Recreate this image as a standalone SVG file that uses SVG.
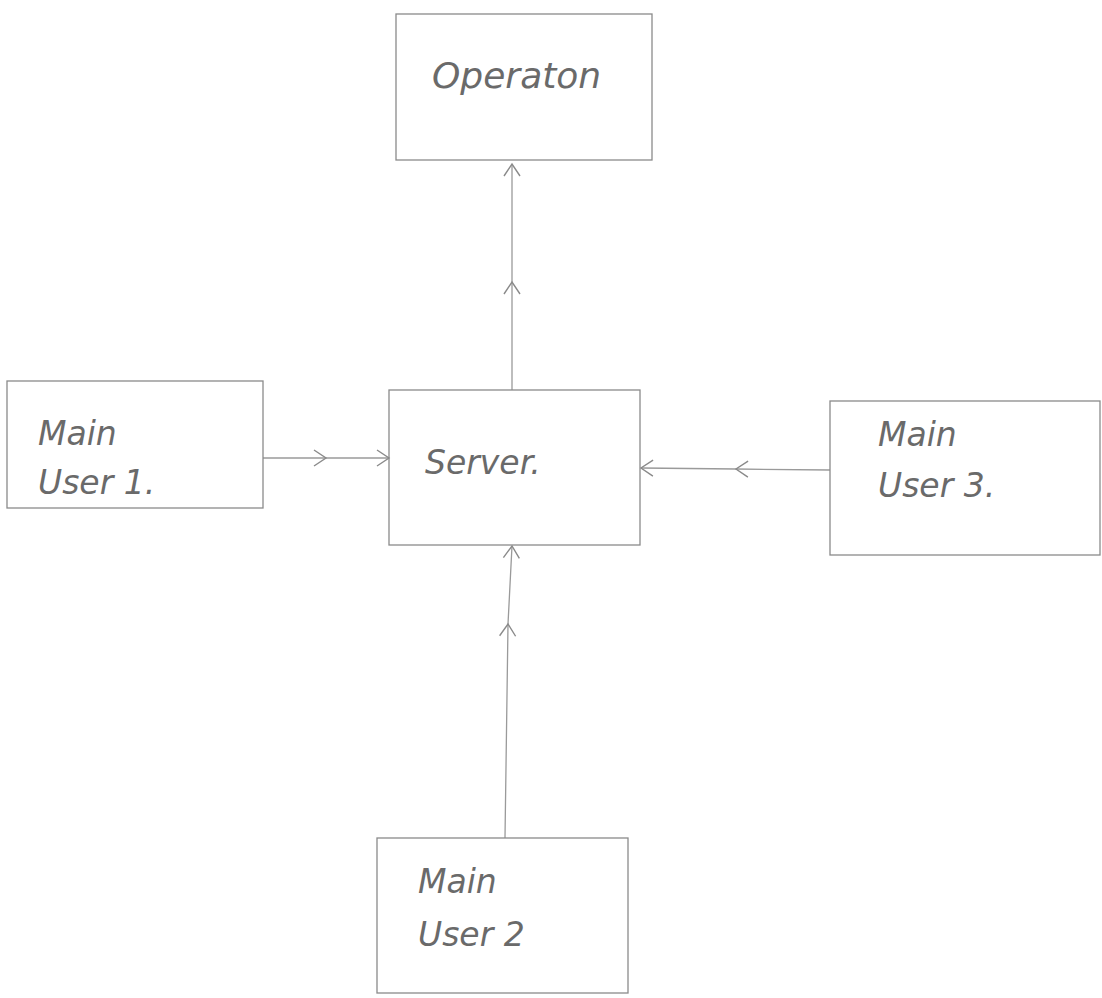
<svg xmlns="http://www.w3.org/2000/svg" width="1102" height="998" viewBox="0 0 1102 998">
<style>
.box{fill:none;stroke:#8a8a8a;stroke-width:1.3}
.lbl{font-family:"DejaVu Sans","Liberation Sans",sans-serif;font-style:italic;font-size:33px;fill:#6a6a6a}
.big{font-size:36px}
.edge{fill:none;stroke:#9a9a9a;stroke-width:1.3;marker-mid:url(#chev);marker-end:url(#chev)}
</style>
<defs>
<marker id="chev" viewBox="0 0 20 20" refX="14" refY="10" markerWidth="20" markerHeight="20" markerUnits="userSpaceOnUse" orient="auto">
<path d="M2,2 L14,10 L2,18" fill="none" stroke="#8a8a8a" stroke-width="1.4"/>
</marker>
</defs>
<rect width="1102" height="998" fill="#ffffff"/>
<g id="connectors">
<polyline class="edge" points="512,390 512,282 512,164"/>
<polyline class="edge" points="263,458 326,458 389,458"/>
<polyline class="edge" points="830,470 736,469 641,468"/>
<polyline class="edge" points="505,838 508,624 512,546"/>
</g>
<g id="operaton">
<rect class="box" x="396" y="14" width="256" height="146"/>
<text class="lbl big" x="432" y="88">Operaton</text>
</g>
<g id="user1">
<rect class="box" x="7" y="381" width="256" height="127"/>
<text class="lbl" x="38" y="445">Main</text>
<text class="lbl" x="38" y="494">User 1.</text>
</g>
<g id="server">
<rect class="box" x="389" y="390" width="251" height="155"/>
<text class="lbl" x="425" y="474">Server.</text>
</g>
<g id="user3">
<rect class="box" x="830" y="401" width="270" height="154"/>
<text class="lbl" x="878" y="446">Main</text>
<text class="lbl" x="878" y="497">User 3.</text>
</g>
<g id="user2">
<rect class="box" x="377" y="838" width="251" height="155"/>
<text class="lbl" x="418" y="893">Main</text>
<text class="lbl" x="418" y="946">User 2</text>
</g>
</svg>
